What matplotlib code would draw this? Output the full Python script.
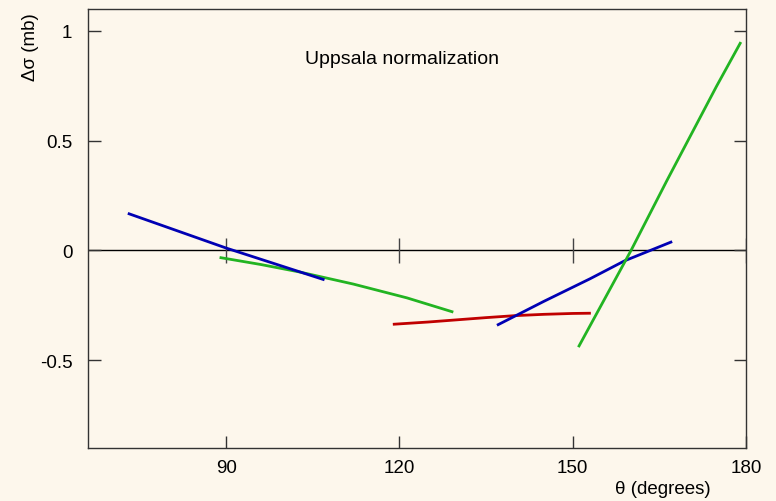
import matplotlib
matplotlib.use("Agg")
import matplotlib.pyplot as plt

plt.rcParams['font.family'] = ['Liberation Sans', 'DejaVu Sans']

# Angle (degrees) and cross-section difference (mb) for each curve segment
blue1_theta = [73.2, 90.0, 106.8]
blue1_dsig = [0.167, 0.011, -0.132]

green1_theta = [89.1, 96.0, 102.7, 112.0, 121.3, 129.1]
green1_dsig = [-0.033, -0.064, -0.098, -0.153, -0.216, -0.279]

red_theta = [119.1, 125.0, 130.0, 135.0, 140.0, 145.0, 150.0, 152.9]
red_dsig = [-0.336, -0.326, -0.316, -0.306, -0.297, -0.291, -0.287, -0.286]

blue2_theta = [137.1, 145.0, 153.0, 159.0, 167.0]
blue2_dsig = [-0.338, -0.232, -0.129, -0.047, 0.038]

green2_theta = [151.1, 160.1, 166.3, 174.9, 179.0]
green2_dsig = [-0.435, 0.0, 0.318, 0.748, 0.944]

x_ticks = [90, 120, 150, 180]
y_ticks = [-0.5, 0, 0.5, 1]
y_tick_labels = ["-0.5", "0", "0.5", "1"]

bg = '#fdf7ec'
blue = '#0000b4'
green = '#22b422'
red = '#c00000'

fig = plt.figure(figsize=(7.76, 5.02), dpi=100, facecolor=bg)
ax = fig.add_axes([0.1128, 0.1056, 0.8485, 0.8744], facecolor=bg)

ax.axhline(0, color='black', lw=1.0, zorder=1)
ax.plot(x_ticks, [0] * len(x_ticks), ls='none', marker='|', markersize=18,
        mew=1.0, color='#444444', zorder=1)

lw = 2.0
ax.plot(blue1_theta, blue1_dsig, color=blue, lw=lw, zorder=3)
ax.plot(green1_theta, green1_dsig, color=green, lw=lw, zorder=2)
ax.plot(red_theta, red_dsig, color=red, lw=lw, zorder=2)
ax.plot(blue2_theta, blue2_dsig, color=blue, lw=lw, zorder=3)
ax.plot(green2_theta, green2_dsig, color=green, lw=lw, zorder=4)

ax.set_xlim(66, 180)
ax.set_ylim(-0.9, 1.1)
ax.set_xticks(x_ticks)
ax.set_xticklabels([str(t) for t in x_ticks])
ax.set_yticks(y_ticks)
ax.set_yticklabels(y_tick_labels)

ax.tick_params(axis='x', direction='in', length=9, width=1, color='#333333',
               labelsize=13.5, pad=8, top=False)
ax.tick_params(axis='y', direction='in', length=9, width=1, color='#333333',
               labelsize=13.5, pad=11, right=True)

for s in ax.spines.values():
    s.set_color('#333333')
    s.set_linewidth(1.0)

ax.text(120.5, 0.876, "Uppsala normalization", ha='center', va='center',
        fontsize=14)
ax.text(-0.087, 0.916, "Δσ (mb)", transform=ax.transAxes, rotation=90,
        ha='center', va='center', fontsize=13.5)
ax.text(0.874, -0.093, "θ (degrees)", transform=ax.transAxes,
        ha='center', va='center', fontsize=13.5)

fig.savefig("out.png", dpi=100, facecolor=bg)
